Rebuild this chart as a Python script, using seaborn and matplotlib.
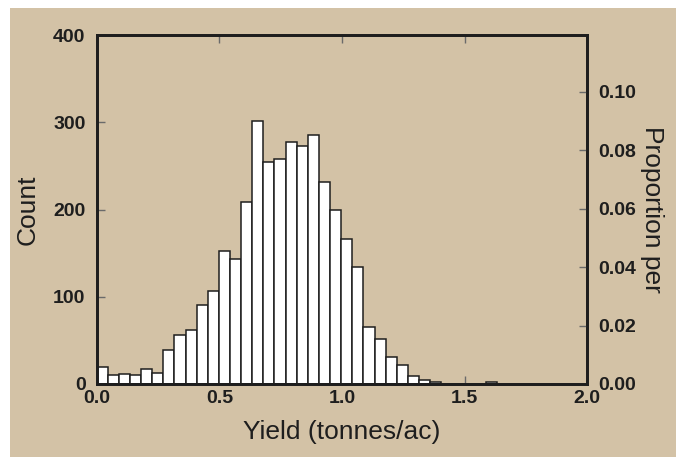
import numpy as np
import pandas as pd
import matplotlib
matplotlib.use("Agg")
import matplotlib.pyplot as plt
import seaborn as sns
from matplotlib.patches import Rectangle

# ---- data ----
bin_width = 0.0453
counts = [20, 10, 12, 10, 17, 13, 39, 56, 62, 90, 107, 152, 143, 209, 301,
          254, 258, 277, 273, 285, 232, 200, 166, 134, 65, 52, 31, 22, 9, 5,
          2, 0, 0, 0, 0, 2]
x_ticks = [0.0, 0.5, 1.0, 1.5, 2.0]
x_labels = ["0.0", "0.5", "1.0", "1.5", "2.0"]
y_ticks = [0, 100, 200, 300, 400]
prop_ticks = [0.00, 0.02, 0.04, 0.06, 0.08, 0.10]
n_total = 3352
x_label = "Yield (tonnes/ac)"
y_label = "Count"
y2_label = "Proportion per"

sns.set_style("ticks")
plt.rcParams["font.family"] = ["Liberation Sans", "DejaVu Sans"]

TAN = "#D3C2A6"
INK = "#1e1e1e"
TICKC = "#6a6a6a"
tick_font = dict(family=["Liberation Sans", "DejaVu Sans"],
                 weight="bold", size=14)

fig = plt.figure(figsize=(6.82, 4.57), dpi=100)
fig.patch.set_facecolor("white")
fig.patches.append(Rectangle((10 / 682, 0), 666 / 682, 449 / 457,
                             transform=fig.transFigure, facecolor=TAN,
                             edgecolor="none", zorder=-10))

ax = fig.add_axes([96.7 / 682, 1 - 384 / 457, 490.6 / 682, 349 / 457])
ax.set_facecolor(TAN)

nbins = len(counts)
centers = (np.arange(nbins) + 0.5) * bin_width
df = pd.DataFrame({"yield": centers, "count": counts})
sns.histplot(data=df, x="yield", weights="count", bins=nbins,
             binrange=(0, nbins * bin_width), ax=ax,
             color="white", edgecolor=INK, linewidth=1.1, alpha=1.0)

ax.set_xlim(0, 2.0)
ax.set_ylim(0, 400)
ax.set_xticks(x_ticks)
ax.set_xticklabels(x_labels, fontdict=tick_font)
ax.set_yticks(y_ticks)
ax.set_yticklabels([str(v) for v in y_ticks], fontdict=tick_font)
ax.tick_params(axis="both", direction="in", length=6, width=1, color=TICKC,
               labelcolor=INK, top=True, right=False)
ax.tick_params(axis="x", pad=4)
ax.tick_params(axis="y", pad=8)
for s in ax.spines.values():
    s.set_visible(True)
    s.set_linewidth(2)
    s.set_color(INK)

ax.set_xlabel(x_label, fontsize=19, color=INK, labelpad=10)
ax.set_ylabel(y_label, fontsize=19, color=INK, labelpad=10)

ax2 = ax.twinx()
ax2.set_ylim(0, 400 / n_total)
ax2.set_yticks(prop_ticks)
ax2.set_yticklabels([f"{v:.2f}" for v in prop_ticks], fontdict=tick_font)
ax2.tick_params(axis="y", direction="in", length=6, width=1, color=TICKC,
                labelcolor=INK, pad=8)
for s in ax2.spines.values():
    s.set_linewidth(2)
    s.set_color(INK)
ax2.set_ylabel(y2_label, fontsize=19, color=INK, rotation=270, labelpad=20)

fig.savefig("out.png", dpi=100, facecolor=fig.get_facecolor())
